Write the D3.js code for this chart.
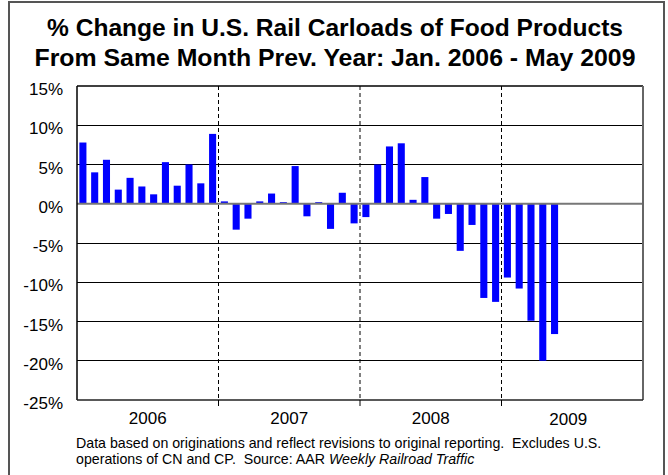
<!DOCTYPE html>
<html>
<head>
<meta charset="utf-8">
<script src="https://cdn.jsdelivr.net/npm/d3@7/dist/d3.min.js"></script>
<style>
  html, body { margin: 0; padding: 0; background: #fff; }
  svg { display: block; font-family: Arial, "Liberation Sans", Helvetica, sans-serif; }
  .note text { white-space: pre; }
</style>
</head>
<body>
<svg id="chart" width="668" height="475"></svg>
<script>
// Monthly % change in food-product carloads vs. same month of prior year
const years = ["2006", "2007", "2008", "2009"];
const months = ["Jan", "Feb", "Mar", "Apr", "May", "Jun", "Jul", "Aug", "Sep", "Oct", "Nov", "Dec"];
const values2006 = [7.8, 4.0, 5.6, 1.8, 3.3, 2.2, 1.2, 5.3, 2.3, 5.0, 2.6, 8.9];
const values2007 = [0.3, -3.3, -1.9, 0.3, 1.3, 0.2, 4.8, -1.6, 0.2, -3.2, 1.4, -2.5];
const values2008 = [-1.7, 5.0, 7.3, 7.7, 0.5, 3.4, -1.9, -1.3, -6.0, -2.7, -12.0, -12.5];
const values2009 = [-9.4, -10.8, -14.9, -20.0, -16.6];
const yTicks = [15, 10, 5, 0, -5, -10, -15, -20, -25];

const titleLines = [
  "% Change in U.S. Rail Carloads of Food Products",
  "From Same Month Prev. Year: Jan. 2006 - May 2009"
];
const titleWidths = [576, 601];

// Build one record per month
const series = [values2006, values2007, values2008, values2009];
const data = [];
series.forEach((vals, yi) => vals.forEach((v, mi) => data.push({ key: years[yi] + "-" + months[mi], value: v })));
const slots = [];
years.forEach(y => months.forEach(m => slots.push(y + "-" + m)));

const svg = d3.select("#chart");
const plot = { left: 77, right: 643, top: 86, bottom: 400 };

// Outer frame
svg.append("rect")
  .attr("x", 9).attr("y", 2).attr("width", 655).attr("height", 490)
  .attr("fill", "#fff").attr("stroke", "#555").attr("stroke-width", 2);

// Title
svg.append("g").selectAll("text").data(titleLines).join("text")
  .attr("x", 335).attr("y", (d, i) => 36 + i * 30)
  .attr("text-anchor", "middle")
  .attr("font-weight", "bold").attr("font-size", 24)
  .attr("textLength", (d, i) => titleWidths[i]).attr("lengthAdjust", "spacingAndGlyphs")
  .attr("fill", "#000")
  .text(d => d);

const x = d3.scaleBand().domain(slots).range([plot.left, plot.right]).paddingInner(0.4).paddingOuter(0.2);
const y = d3.scaleLinear().domain([-25, 15]).range([plot.bottom, plot.top]);

// Horizontal gridlines
svg.append("g").selectAll("line").data(yTicks.filter(t => t !== 0 && t !== 15 && t !== -25)).join("line")
  .attr("x1", plot.left).attr("x2", plot.right)
  .attr("y1", d => y(d)).attr("y2", d => y(d))
  .attr("stroke", "#000").attr("stroke-width", 1).attr("shape-rendering", "crispEdges");

// Y axis labels
const yAxis = d3.axisLeft(y).tickValues(yTicks).tickSize(0).tickPadding(14).tickFormat(d => d + "%");
const gy = svg.append("g").attr("transform", `translate(${plot.left},0)`).call(yAxis);
gy.select(".domain").remove();
gy.selectAll("text").attr("font-size", 17).attr("font-family", "Arial, 'Liberation Sans', sans-serif")
  .attr("fill", "#000").attr("dy", "0.5em");

// Year dividers
const boundaries = years.slice(1).map(yr => x(yr + "-Jan") - x.step() * x.paddingInner() / 2);
svg.append("g").selectAll("line").data(boundaries).join("line")
  .attr("x1", d => d).attr("x2", d => d)
  .attr("y1", plot.top).attr("y2", plot.bottom)
  .attr("stroke", "#000").attr("stroke-width", 1).attr("stroke-dasharray", "4,3");

// Bars
svg.append("g").selectAll("rect").data(data).join("rect")
  .attr("x", d => x(d.key)).attr("width", x.bandwidth())
  .attr("y", d => y(Math.max(0, d.value)))
  .attr("height", d => Math.abs(y(d.value) - y(0)))
  .attr("fill", "#0000ff");

// Zero line
svg.append("line")
  .attr("x1", plot.left).attr("x2", plot.right)
  .attr("y1", y(0)).attr("y2", y(0))
  .attr("stroke", "#777").attr("stroke-width", 2);

// Plot border
svg.append("line").attr("x1", plot.left).attr("x2", plot.right).attr("y1", plot.top).attr("y2", plot.top)
  .attr("stroke", "#000").attr("stroke-width", 1.5);
svg.append("line").attr("x1", plot.left).attr("x2", plot.left).attr("y1", plot.top).attr("y2", plot.bottom)
  .attr("stroke", "#000").attr("stroke-width", 1.5);
svg.append("line").attr("x1", plot.right).attr("x2", plot.right).attr("y1", plot.top).attr("y2", plot.bottom)
  .attr("stroke", "#666").attr("stroke-width", 2);
svg.append("line").attr("x1", plot.left).attr("x2", plot.right).attr("y1", plot.bottom).attr("y2", plot.bottom)
  .attr("stroke", "#222").attr("stroke-width", 1.5);

// Year ticks below the axis
svg.append("g").selectAll("line").data(boundaries).join("line")
  .attr("x1", d => d).attr("x2", d => d)
  .attr("y1", plot.bottom).attr("y2", plot.bottom + 6)
  .attr("stroke", "#000").attr("stroke-width", 1);

// Year labels centred under each year's span
svg.append("g").selectAll("text").data(years).join("text")
  .attr("x", yr => (x(yr + "-Jan") + x(yr + "-Dec") + x.bandwidth()) / 2)
  .attr("y", (d, i) => i === years.length - 1 ? 425 : 424)
  .attr("dx", (d, i) => i === years.length - 1 ? -4 : 0)
  .attr("text-anchor", "middle").attr("font-size", 17).attr("fill", "#000")
  .text(d => d);

// Source note
const note = svg.append("g").attr("class", "note").attr("font-size", 14.2).attr("fill", "#000");
note.append("text").attr("x", 76).attr("y", 448)
  .text("Data based on originations and reflect revisions to original reporting.  Excludes U.S.");
const l2 = note.append("text").attr("x", 76).attr("y", 464);
l2.append("tspan").text("operations of CN and CP.  Source: AAR ");
l2.append("tspan").attr("font-style", "italic").text("Weekly Railroad Traffic");
</script>
</body>
</html>
